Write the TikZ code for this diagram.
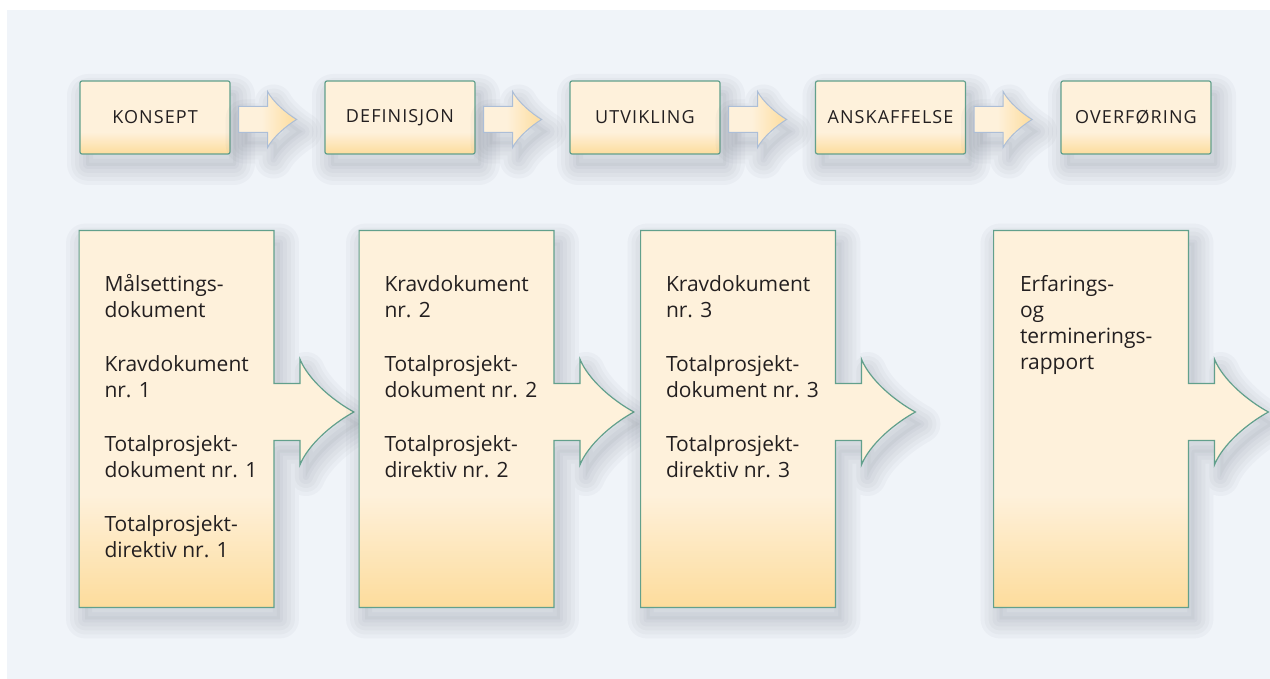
\documentclass[tikz,border=0pt]{standalone}
\usepackage{fontspec}
\setmainfont{Open Sans}
\newfontfamily\capsfont[LetterSpace=6]{Open Sans}
\definecolor{pagebg}{RGB}{240,244,249}
\definecolor{creamlight}{RGB}{254,241,219}
\definecolor{creamdeep}{RGB}{253,220,156}
\definecolor{edgeteal}{RGB}{98,160,140}
\definecolor{edgeblue}{RGB}{172,190,215}
\definecolor{inktext}{RGB}{35,31,32}
\definecolor{shadowgray}{RGB}{80,88,104}
\pgfdeclareverticalshading{stageshade}{100bp}{color(0bp)=(creamdeep); color(25bp)=(creamdeep); color(40bp)=(creamlight); color(100bp)=(creamlight)}
\pgfdeclarehorizontalshading{arrowshade}{100bp}{color(0bp)=(creamlight); color(45bp)=(creamlight); color(75bp)=(creamdeep); color(100bp)=(creamdeep)}

\begin{document}
\begin{tikzpicture}[
  x=0.5pt, y=-0.5pt,
  shadowlayer/.style={preaction={draw=shadowgray, line width=#1,
                      line join=round, opacity=0.04,
                      transform canvas={xshift=3pt, yshift=-6pt}}},
  softshadow/.style={preaction={fill=shadowgray, opacity=0.05,
                     transform canvas={xshift=3pt, yshift=-6pt}},
                     shadowlayer=3pt, shadowlayer=7pt, shadowlayer=11pt,
                     shadowlayer=15pt, shadowlayer=19pt},
  stage/.style={draw=edgeteal, line width=0.6pt, rounded corners=1pt,
                shade, shading=stageshade, softshadow,
                minimum width=75pt, minimum height=36.5pt, inner sep=0pt,
                font=\capsfont\fontsize{9}{11}\selectfont, text=inktext},
  steparrow/.style={draw=edgeblue, line width=0.5pt, shade,
                    shading=arrowshade, softshadow},
  docbox/.style={minimum width=97pt, minimum height=188pt, inner sep=0pt},
  docshape/.style={draw=edgeteal, line width=0.6pt, shade,
                   shading=stageshade, softshadow},
  doctext/.style={anchor=base west, align=left, inner sep=0pt,
                  font=\fontsize{10.5}{13}\selectfont, text=inktext}
]
\useasboundingbox (0,0) rectangle (1270,679);
\fill[pagebg] (7,10) rectangle (1270,679);

% phases
\node[stage] (konsept)     at (155,117.5)  {KONSEPT};
\node[stage] (definisjon)  at (400,117.5)  {DEFINISJON};
\node[stage] (utvikling)   at (645,117.5)  {UTVIKLING};
\node[stage] (anskaffelse) at (890.5,117.5){ANSKAFFELSE};
\node[stage] (overforing)  at (1136,117.5) {OVERFØRING};

\foreach \a in {konsept,definisjon,utvikling,anskaffelse}
  \path[steparrow] ([xshift=4pt]\a.east) -- ++(0,-11) -- ++(29,0) -- ++(0,-15)
    .. controls +(5,10) and +(-10,-6) .. ++(29,28)
    .. controls +(-10,6) and +(5,-10) .. ++(-29,28)
    -- ++(0,-15) -- ++(-29,0) -- cycle;

% documents
\node[docbox] (doc1) at (176.5,419) {};
\node[docbox] (doc2) at (456.5,419) {};
\node[docbox] (doc3) at (738,419)   {};
\node[docbox] (doc4) at (1091,419)  {};

\foreach \d in {doc1,doc2,doc3,doc4}
  \path[docshape] (\d.north west) -- (\d.north east)
    -- ([shift={(0,-35.5)}]\d.east) -- ++(26,0) -- ++(0,-24.5)
    .. controls +(8,20) and +(-22,-12) .. ++(54,53)
    .. controls +(-22,12) and +(8,-20) .. ++(-54,53)
    -- ++(0,-24.5) -- ++(-26,0) -- (\d.south east) -- (\d.south west) -- cycle;

% text blocks sit on the baseline of their last line
\node[doctext] (txt1) at ([shift={(25,327)}]doc1.north west)
  {Målsettings-\\dokument\\[14pt]Kravdokument\\nr. 1\\[14pt]Totalprosjekt-\\dokument nr. 1\\[14pt]Totalprosjekt-\\direktiv nr. 1};
\node[doctext] (txt2) at ([shift={(25,247)}]doc2.north west)
  {Kravdokument\\nr. 2\\[14pt]Totalprosjekt-\\dokument nr. 2\\[14pt]Totalprosjekt-\\direktiv nr. 2};
\node[doctext] (txt3) at ([shift={(25,247)}]doc3.north west)
  {Kravdokument\\nr. 3\\[14pt]Totalprosjekt-\\dokument nr. 3\\[14pt]Totalprosjekt-\\direktiv nr. 3};
\node[doctext] (txt4) at ([shift={(26,139)}]doc4.north west)
  {Erfarings-\\og\\terminerings-\\rapport};
\end{tikzpicture}
\end{document}
